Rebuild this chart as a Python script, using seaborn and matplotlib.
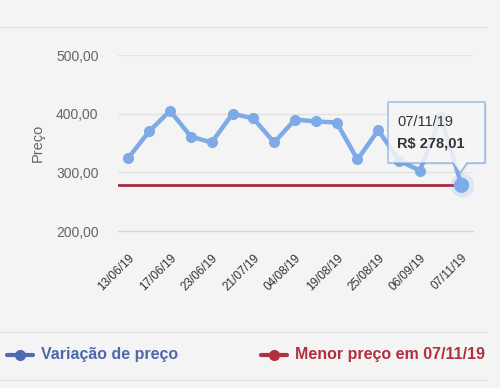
import numpy as np
import pandas as pd
import matplotlib
matplotlib.use("Agg")
import matplotlib.pyplot as plt
import seaborn as sns
from matplotlib.lines import Line2D
from matplotlib.patches import Polygon

# dados
precos = [325, 370, 405, 361, 351, 400, 392, 351, 390, 387, 385, 322, 372, 320, 303, 395, 278.01]
datas_ticks = ["13/06/19", "17/06/19", "23/06/19", "21/07/19", "04/08/19",
               "19/08/19", "25/08/19", "06/09/19", "07/11/19"]
yticks = [200, 300, 400, 500]
menor_preco = 278.01
menor_data = "07/11/19"

azul = "#7eaae6"
vermelho = "#a52a3d"
fundo = "#f4f4f4"

sns.set_style("white")
plt.rcParams["font.family"] = ["Liberation Sans", "DejaVu Sans"]

df = pd.DataFrame({"idx": np.arange(len(precos)), "preco": precos})

fig = plt.figure(figsize=(5, 3.88), dpi=100, facecolor=fundo)
ax = fig.add_axes([0.236, 0.4046, 0.71, 0.4534])
ax.set_facecolor(fundo)

ax.set_xlim(-0.5, len(precos) - 1 + 0.55)
ax.set_ylim(yticks[0], yticks[-1])

# grade
for v in yticks[1:]:
    ax.axhline(v, color="#e3e3e3", lw=1, zorder=0)

# linha do menor preço
x0, x1 = ax.get_xlim()
ax.axhline(menor_preco, xmin=0, xmax=(len(precos) - 1 - x0) / (x1 - x0),
           color=vermelho, lw=2, zorder=2)

sns.lineplot(data=df, x="idx", y="preco", ax=ax, color=azul, lw=3.2,
             marker="o", markersize=8, markeredgewidth=0, zorder=3)

# ponto destacado
ax.scatter([len(precos) - 1], [precos[-1]], s=300, color=azul, alpha=0.18,
           linewidths=0, zorder=4)
ax.scatter([len(precos) - 1], [precos[-1]], s=120, color=azul,
           edgecolors="none", zorder=5)

for s in ["top", "right", "left"]:
    ax.spines[s].set_visible(False)
ax.spines["bottom"].set_color("#ccd6eb")
ax.spines["bottom"].set_linewidth(1)

ax.set_yticks(yticks)
ax.set_yticklabels([f"{v:.2f}".replace(".", ",") for v in yticks],
                   color="#666666", fontsize=10)
ax.tick_params(axis="y", length=0, pad=14)

ax.set_xticks(np.arange(0, len(precos), 2))
ax.set_xticklabels(datas_ticks, rotation=45, ha="right", rotation_mode="anchor",
                   color="#333333", fontsize=8.5)
ax.tick_params(axis="x", length=10, color="#ccd6eb", width=1, pad=5)

ax.set_xlabel("")
ax.set_ylabel("Preço", color="#666666", fontsize=10.5, labelpad=8)

# tooltip
def fx(x):
    return x / 500

def fy(y):
    return 1 - y / 388

caixa = [(388, 102), (485, 102), (485, 163), (467, 163), (460, 173),
         (453, 163), (388, 163)]
sombra = Polygon([(fx(x + 1.5), fy(y + 1.5)) for x, y in caixa], closed=True,
                 transform=fig.transFigure, facecolor="#000000", alpha=0.08,
                 edgecolor="none", zorder=6, clip_on=False)
ax.add_patch(sombra)
tip = Polygon([(fx(x), fy(y)) for x, y in caixa], closed=True,
              transform=fig.transFigure, facecolor="#f9f9f9", alpha=0.85,
              edgecolor=azul, lw=1, zorder=7, clip_on=False)
ax.add_patch(tip)
ax.text(fx(397), fy(122), menor_data, fontsize=10.5, color="#333333",
        va="center", ha="left", zorder=8, transform=fig.transFigure)
ax.text(fx(397), fy(143), "R$ " + f"{menor_preco:.2f}".replace(".", ","),
        fontsize=10.5, color="#333333", fontweight="bold", va="center",
        ha="left", zorder=8, transform=fig.transFigure)

# linhas separadoras
for yy in [27, 332, 380]:
    fig.add_artist(Line2D([0, fx(487)], [fy(yy), fy(yy)], color="#e6e6e6", lw=1))

# legenda
fig.add_artist(Line2D([fx(7), fx(33)], [fy(355), fy(355)], color="#4d6bb3", lw=3))
fig.add_artist(Line2D([fx(20)], [fy(355)], color="#4d6bb3", marker="o",
                      markersize=7, lw=0))
fig.text(fx(41), fy(355), "Variação de preço", color="#4f68aa", fontsize=11.5,
         fontweight="bold", va="center", ha="left")
fig.add_artist(Line2D([fx(261), fx(287)], [fy(355), fy(355)], color="#b0303f", lw=3))
fig.add_artist(Line2D([fx(274)], [fy(355)], color="#b0303f", marker="o",
                      markersize=7, lw=0))
fig.text(fx(295), fy(355), "Menor preço em " + menor_data, color="#b0303f",
         fontsize=11.5, fontweight="bold", va="center", ha="left")

fig.savefig("out.png", dpi=100, facecolor=fundo)
